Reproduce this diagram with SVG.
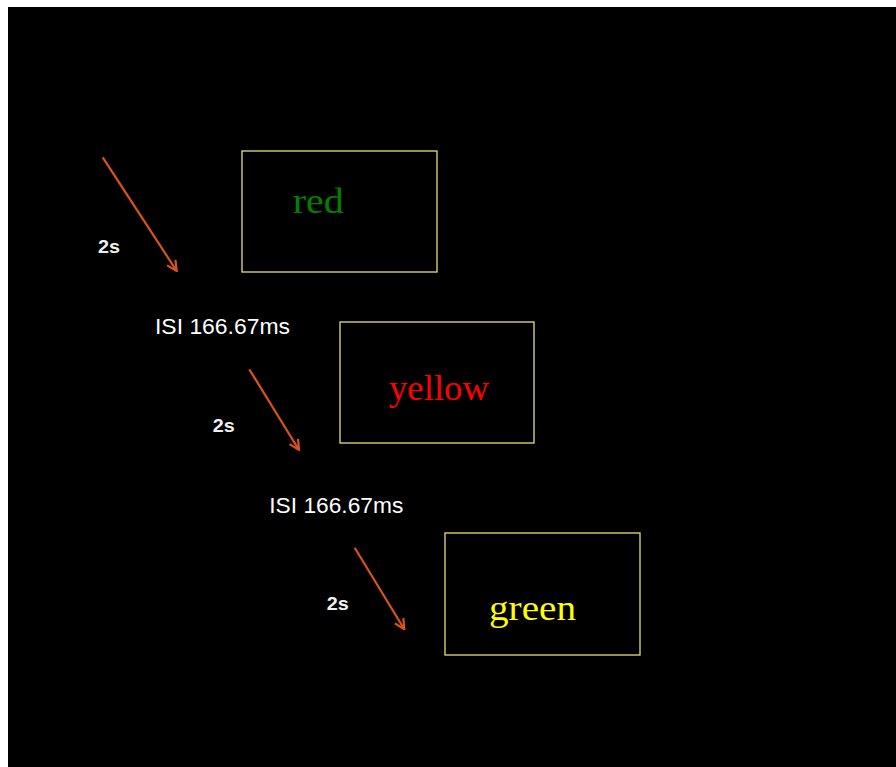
<svg xmlns="http://www.w3.org/2000/svg" width="896" height="767" viewBox="0 0 896 767">
<style>
.box{fill:none;stroke:#e6df7c;stroke-width:1.3}
.word{font-family:"Liberation Serif","DejaVu Serif",serif;font-size:36px}
.lbl{font-family:"Liberation Sans","Open Sans",sans-serif;fill:#ffffff}
.dur{font-size:19px;font-weight:bold;fill:#f0f0f0}
.isi{font-size:22px}
.arr{stroke:#d9541a;stroke-width:2.2;fill:none}
</style>
<defs>
<marker id="ah" viewBox="0 0 12 12" refX="11" refY="6" markerWidth="12" markerHeight="12" markerUnits="userSpaceOnUse" orient="auto">
<polyline points="1,1 11,6 1,11" fill="none" stroke="#d9541a" stroke-width="2.2"/>
</marker>
</defs>
<rect x="0" y="0" width="896" height="767" fill="#ffffff"/>
<rect x="8" y="7" width="888" height="760" fill="#000000"/>
<g id="connectors">
<line class="arr" x1="102.7" y1="157.3" x2="176.7" y2="271" marker-end="url(#ah)"/>
<line class="arr" x1="249.3" y1="369.3" x2="299" y2="450" marker-end="url(#ah)"/>
<line class="arr" x1="354.7" y1="547.7" x2="404.3" y2="629.3" marker-end="url(#ah)"/>
</g>
<g id="node-red">
<rect class="box" x="242" y="151" width="195" height="121"/>
<text class="word" x="292.7" y="213.3" fill="#008000" textLength="51" lengthAdjust="spacingAndGlyphs">red</text>
</g>
<g id="node-yellow">
<rect class="box" x="340" y="322" width="194" height="121"/>
<text class="word" x="389" y="400" fill="#ff0000" textLength="100" lengthAdjust="spacingAndGlyphs">yellow</text>
</g>
<g id="node-green">
<rect class="box" x="445" y="533" width="195" height="122"/>
<text class="word" x="489" y="620" fill="#ffff00" textLength="87" lengthAdjust="spacingAndGlyphs">green</text>
</g>
<g id="labels">
<text class="lbl dur" x="98" y="252.5" textLength="22" lengthAdjust="spacingAndGlyphs">2s</text>
<text class="lbl isi" x="155" y="334" textLength="135" lengthAdjust="spacingAndGlyphs">ISI 166.67ms</text>
<text class="lbl dur" x="212.7" y="431.7" textLength="22" lengthAdjust="spacingAndGlyphs">2s</text>
<text class="lbl isi" x="269.3" y="512.7" textLength="134" lengthAdjust="spacingAndGlyphs">ISI 166.67ms</text>
<text class="lbl dur" x="326.7" y="610" textLength="22" lengthAdjust="spacingAndGlyphs">2s</text>
</g>
</svg>
